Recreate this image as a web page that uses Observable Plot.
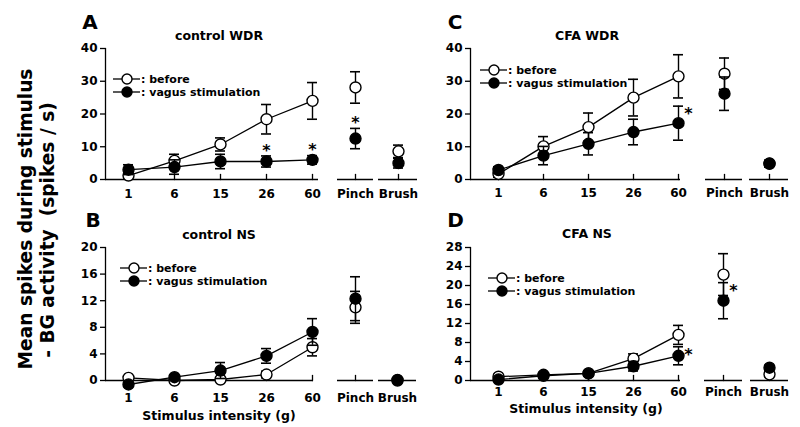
<!DOCTYPE html>
<html><head><meta charset="utf-8">
<script src="https://cdn.jsdelivr.net/npm/d3@7"></script>
<script src="https://cdn.jsdelivr.net/npm/@observablehq/plot@0.6"></script>
<style>
body{margin:0;background:#fff;}
#root{position:relative;width:800px;height:427px;font-family:"DejaVu Sans",sans-serif;font-weight:bold;overflow:hidden;color:#000;}
.t{position:absolute;white-space:pre;line-height:1;transform:translate(-50%,-50%);}
.l{position:absolute;white-space:pre;line-height:1;transform:translate(0,-50%);}
svg{overflow:visible;}
</style></head><body><div id="root"></div>
<script>
// ---- data ----
const stimuli = ["1","6","15","26","60","Pinch","Brush"];
const intensities = ["1","6","15","26","60"];

const aBeforeMean = [1.2, 5.7, 10.7, 18.4, 24.0, 28.1, 8.6];
const aBeforeErr  = [1.0, 2.0, 2.0, 4.5, 5.6, 4.8, 1.9];
const aVagusMean  = [3.0, 3.8, 5.5, 5.5, 6.0, 12.5, 5.0];
const aVagusErr   = [1.5, 2.2, 2.2, 1.7, 1.3, 3.1, 1.5];
const aStars = ["26","60","Pinch"];

const bBeforeMean = [0.4, 0.0, 0.15, 0.9, 5.0, 11.0, 0.0];
const bBeforeErr  = [0.3, 0.3, 0.3, 0.5, 1.3, 2.4, 0.2];
const bVagusMean  = [-0.6, 0.5, 1.5, 3.7, 7.3, 12.3, 0.1];
const bVagusErr   = [0.3, 0.3, 1.2, 1.1, 2.0, 3.3, 0.2];
const bStars = [];

const cBeforeMean = [1.7, 10.1, 16.0, 25.0, 31.5, 32.3, 4.8];
const cBeforeErr  = [1.0, 3.0, 4.3, 5.6, 6.6, 4.8, 1.0];
const cVagusMean  = [2.9, 7.3, 10.9, 14.5, 17.2, 26.2, 4.9];
const cVagusErr   = [1.0, 2.8, 3.4, 3.9, 5.2, 5.1, 1.0];
const cStars = ["60"];

const dBeforeMean = [0.8, 1.2, 1.5, 4.6, 9.6, 22.3, 1.3];
const dBeforeErr  = [0.5, 0.5, 0.5, 1.0, 2.0, 4.4, 0.5];
const dVagusMean  = [0.2, 1.0, 1.5, 3.0, 5.2, 16.8, 2.7];
const dVagusErr   = [0.3, 0.5, 0.5, 1.0, 1.9, 3.8, 0.5];
const dStars = ["60","Pinch"];

const wdrTicks = [0, 10, 20, 30, 40];
const bTicks = [0, 4, 8, 12, 16, 20];
const dTicks = [0, 4, 8, 12, 16, 20, 24, 28];

const yTitle1 = "Mean spikes during stimulus";
const yTitle2 = "- BG activity  (spikes / s)";
const xTitle = "Stimulus intensity (g)";
const legendLabels = [": before", ": vagus stimulation"];

// ---- layout ----
const panels = [
  {letter:"A", title:"control WDR", before:[aBeforeMean,aBeforeErr], vagus:[aVagusMean,aVagusErr], stars:aStars, starMode:"top", yTicks:wdrTicks,
   frame:{left:105,right:318,top:48,bottom:179}, ticks:[128,312], pinch:[337,373], brush:[378,417], labelPad:9.5,
   letterXY:[90,22], titleXY:[219,36], legendXY:[113,79]},
  {letter:"B", title:"control NS", before:[bBeforeMean,bBeforeErr], vagus:[bVagusMean,bVagusErr], stars:bStars, starMode:"top", yTicks:bTicks,
   frame:{left:105,right:313,top:247,bottom:380}, ticks:[128,312], pinch:[337,373], brush:[378,416], labelPad:13,
   letterXY:[93,219.5], titleXY:[219,235], legendXY:[120,268], xTitleXY:[219,416]},
  {letter:"C", title:"CFA WDR", before:[cBeforeMean,cBeforeErr], vagus:[cVagusMean,cVagusErr], stars:cStars, starMode:"right", yTicks:wdrTicks,
   frame:{left:470,right:680,top:48,bottom:179}, ticks:[497,678], pinch:[705,742], brush:[749,788], labelPad:8.5,
   letterXY:[455,22], titleXY:[587,36], legendXY:[480,70]},
  {letter:"D", title:"CFA NS", before:[dBeforeMean,dBeforeErr], vagus:[dVagusMean,dVagusErr], stars:dStars, starMode:"right", yTicks:dTicks,
   frame:{left:470,right:680,top:247,bottom:380}, ticks:[497,679], pinch:[704,742], brush:[750,788], labelPad:6.5,
   letterXY:[455.5,219.5], titleXY:[587,234], legendXY:[488,278], xTitleXY:[586,409]}
];

const root = document.getElementById("root");
const capW = 10;
const SW = 1.3;
const tickUp = {draw(context, l) { context.moveTo(0, 0); context.lineTo(0, -l); }};
const FONT = "DejaVu Sans";

function series(mean, err) {
  return stimuli.map((s, i) => ({stim: s, mean: mean[i], lo: mean[i] - err[i], hi: mean[i] + err[i]}));
}

function addText(cls, txt, x, y, size, extra) {
  const d = document.createElement("div");
  d.className = cls;
  d.textContent = txt;
  d.style.left = x + "px";
  d.style.top = y + "px";
  d.style.fontSize = size + "px";
  if (extra) d.style.transform = extra;
  root.appendChild(d);
}

function segment(p, domain, frame, first, last, isMain) {
  const n = domain.length;
  const mL = isMain ? 45 : 4, mR = 6, mT = 10, mB = 30;
  const step = n > 1 ? (last - first) / (n - 1) : capW;
  const bData = series(p.before[0], p.before[1]).filter(d => domain.includes(d.stim));
  const vData = series(p.vagus[0], p.vagus[1]).filter(d => domain.includes(d.stim));
  const starData = vData.filter(d => p.stars.includes(d.stim));
  const yMax = p.yTicks[p.yTicks.length - 1];
  const errMarks = (data, fill) => [
    Plot.ruleX(data, {x: "stim", y1: "lo", y2: "hi", stroke: "black", strokeWidth: 1.4}),
    Plot.tickY(data, {x: "stim", y: "hi", stroke: "black", strokeWidth: 1.6}),
    Plot.tickY(data, {x: "stim", y: "lo", stroke: "black", strokeWidth: 1.6}),
    Plot.dot(data, {x: "stim", y: "mean", r: 5.5, fill, stroke: "black", strokeWidth: 1.4})
  ];
  const plot = Plot.plot({
    width: frame.right - frame.left + mL + mR,
    height: frame.bottom - frame.top + mT + mB,
    marginLeft: mL, marginRight: mR, marginTop: mT, marginBottom: mB,
    style: {fontFamily: FONT, fontWeight: "bold", fontSize: "12px", background: "transparent", overflow: "visible"},
    x: {type: "band", domain, paddingInner: n > 1 ? 1 - capW / step : 0, paddingOuter: 0,
        insetLeft: first - capW / 2 - frame.left, insetRight: frame.right - last - capW / 2, axis: null},
    y: {domain: [0, yMax], axis: null},
    marks: [
      isMain ? Plot.axisY({ticks: p.yTicks, tickSize: 5, tickPadding: 3, label: null, strokeWidth: SW, fontSize: 12}) : null,
      isMain ? Plot.frame({anchor: "left", strokeWidth: SW}) : null,
      Plot.axisX({tickSize: 0, tickPadding: p.labelPad, label: null, fontSize: 12}),
      Plot.ruleY([0], {strokeWidth: SW}),
      Plot.vector(domain, {x: d => d, y: () => 0, length: 5, anchor: "start", shape: tickUp, strokeWidth: SW, stroke: "black"}),
      isMain ? Plot.line(bData, {x: "stim", y: "mean", stroke: "black", strokeWidth: SW}) : null,
      isMain ? Plot.line(vData, {x: "stim", y: "mean", stroke: "black", strokeWidth: SW}) : null,
      ...errMarks(bData, "white"),
      ...errMarks(vData, "black"),
      Plot.text(starData, {x: "stim", y: "hi", text: () => "*", fontSize: 16, fontFamily: FONT, fontWeight: "bold",
        dx: p.starMode === "right" ? 10 : 0, dy: p.starMode === "right" ? 8 : -5.5})
    ]
  });
  plot.style.position = "absolute";
  plot.style.left = (frame.left - mL) + "px";
  plot.style.top = (frame.top - mT) + "px";
  plot.style.maxWidth = "none";
  root.appendChild(plot);
}

function legend(x, y) {
  const ns = "http://www.w3.org/2000/svg";
  const svg = document.createElementNS(ns, "svg");
  svg.setAttribute("width", 30); svg.setAttribute("height", 30);
  svg.style.position = "absolute";
  svg.style.left = x + "px"; svg.style.top = (y - 8) + "px";
  const rowGap = 13;
  [["white"], ["black"]].forEach(([fill], i) => {
    const cy = 8 + i * rowGap;
    const ln = document.createElementNS(ns, "line");
    ln.setAttribute("x1", 0); ln.setAttribute("x2", 27); ln.setAttribute("y1", cy); ln.setAttribute("y2", cy);
    ln.setAttribute("stroke", "black"); ln.setAttribute("stroke-width", SW);
    svg.appendChild(ln);
    const c = document.createElementNS(ns, "circle");
    c.setAttribute("cx", 14); c.setAttribute("cy", cy); c.setAttribute("r", 5);
    c.setAttribute("fill", fill); c.setAttribute("stroke", "black"); c.setAttribute("stroke-width", 1.4);
    svg.appendChild(c);
    addText("l", legendLabels[i], x + 28, y + i * rowGap, 11);
  });
  root.appendChild(svg);
}

panels.forEach(p => {
  segment(p, intensities, p.frame, p.ticks[0], p.ticks[1], true);
  const pc = (p.pinch[0] + p.pinch[1]) / 2, bc = (p.brush[0] + p.brush[1]) / 2;
  segment(p, ["Pinch"], {left: p.pinch[0], right: p.pinch[1], top: p.frame.top, bottom: p.frame.bottom}, pc, pc, false);
  segment(p, ["Brush"], {left: p.brush[0], right: p.brush[1], top: p.frame.top, bottom: p.frame.bottom}, bc, bc, false);
  addText("t", p.letter, p.letterXY[0], p.letterXY[1], 20);
  addText("t", p.title, p.titleXY[0], p.titleXY[1], 12.5);
  legend(p.legendXY[0], p.legendXY[1]);
  if (p.xTitleXY) addText("t", xTitle, p.xTitleXY[0], p.xTitleXY[1], 12.5);
});

addText("t", yTitle1, 26, 219, 18.6, "translate(-50%,-50%) rotate(-90deg)");
addText("t", yTitle2, 48, 230, 18.6, "translate(-50%,-50%) rotate(-90deg)");
</script>
</body></html>
